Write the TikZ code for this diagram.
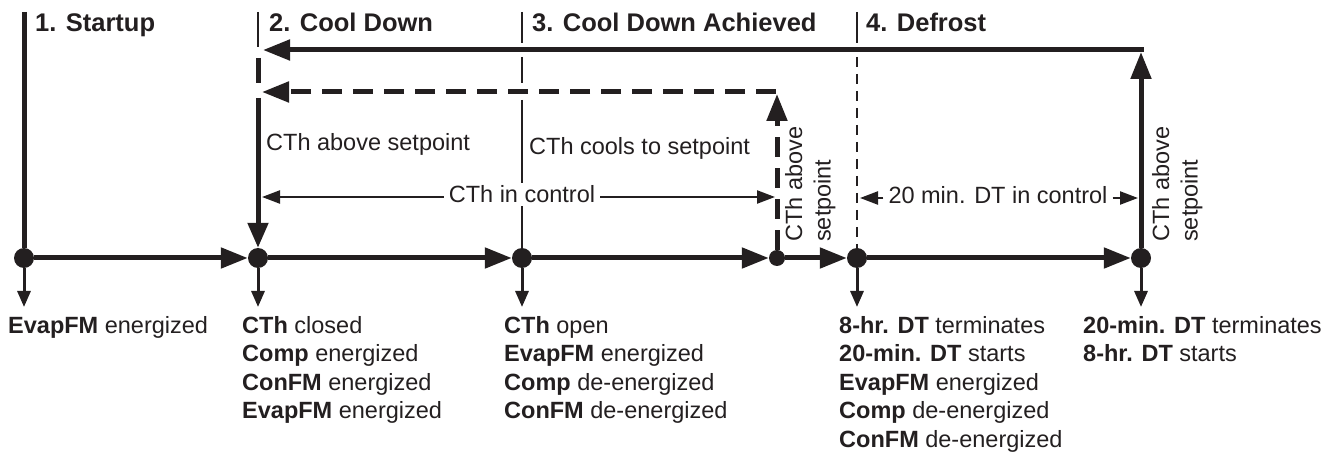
\documentclass[tikz,border=0pt]{standalone}
\usepackage{fontspec}
\setmainfont{Liberation Sans}
\usetikzlibrary{arrows.meta}
\definecolor{ink}{RGB}{35,31,32}
\begin{document}
\begin{tikzpicture}[x=1pt,y=-1pt,
  font=\fontsize{23.5}{28.5}\selectfont,
  dot/.style={circle, fill=ink, inner sep=0, minimum size=20pt},
  sdot/.style={circle, fill=ink, inner sep=0, minimum size=16pt},
  main/.style={line width=5pt, draw=ink},
  big/.style={-{Triangle[length=27pt,width=20pt]}},
  dsh/.style={dash pattern=on 20pt off 11pt},
  sep/.style={line width=2.3pt, draw=ink},
  thinarrow/.style={line width=2.3pt, draw=ink, -{Triangle[length=18pt,width=13pt]}},
  downarrow/.style={line width=3pt, draw=ink, -{Triangle[length=16pt,width=13pt]}},
  lbl/.style={inner sep=0, anchor=base west, text=ink},
  title/.style={lbl, font=\fontsize{25.5}{28}\selectfont\bfseries},
  ctl/.style={anchor=base, fill=white, inner xsep=5pt, inner ysep=3pt, text=ink},
  rot/.style={rotate=90, anchor=north west, align=left, inner sep=0, text=ink},
  blk/.style={anchor=north west, align=left, inner sep=0, text=ink}]
\useasboundingbox (0,0) rectangle (1336,454);

% timeline dots
\node[dot] (d1) at (24,258) {};
\node[dot] (d2) at (258,258) {};
\node[dot] (d3) at (522,258) {};
\node[sdot] (sd) at (777,258) {};
\node[dot] (d4) at (857,258) {};
\node[dot] (d5) at (1141,258) {};

% coordinates
\coordinate (t1) at (24,12);
\coordinate (s2a) at (258,12);
\coordinate (s2b) at (258,47);
\coordinate (v2a) at (258,58);
\coordinate (v2b) at (258,83);
\coordinate (a2) at (258,98);
\coordinate (s3a) at (522,12);
\coordinate (s3b) at (522,43);
\coordinate (s3c) at (522,57);
\coordinate (s3d) at (522,83);
\coordinate (s3e) at (522,100);
\coordinate (s4a) at (857,12);
\coordinate (s4b) at (857,43);
\coordinate (s4c) at (857,57);
\coordinate (topTip) at (1141,52);
\coordinate (topR) at (1143.5,50);
\coordinate (topL) at (263,50);
\coordinate (dTip) at (777,94);
\coordinate (dR) at (776,92);
\coordinate (dL) at (262,92);
\coordinate (b1) at (24,307);
\coordinate (b2) at (258,307);
\coordinate (b3) at (522,307);
\coordinate (b4) at (857,307);
\coordinate (b5) at (1141,307);
\coordinate (cicL) at (262,197);
\coordinate (cicR) at (775,197);
\coordinate (dtcL) at (860,198);
\coordinate (dtcR) at (1138,198);

% separators
\draw[sep] (s2a) -- (s2b);
\draw[sep] (s3a) -- (s3b);
\draw[sep] (s3c) -- (s3d);
\draw[sep] (s3e) -- (d3);
\draw[sep] (s4a) -- (s4b);
\draw[sep, dash pattern=on 10pt off 7pt] (s4c) -- (d4);

% thick verticals and loops
\draw[main] (t1) -- (d1);
\draw[main] (v2a) -- (v2b);
\draw[main, -{Triangle[length=25pt,width=20pt]}] (a2) -- (d2);
\draw[main, big] (d5) -- (topTip);
\draw[main, big] (topR) -- (topL);
\draw[main, dsh, big] (sd) -- (dTip);
\draw[main, dsh, big] (dR) -- (dL);

% control labels
\node[ctl] (cic) at (522,203) {CTh in control};
\draw[thinarrow] (cic.west |- cicL) -- (cicL);
\draw[thinarrow] (cic.east |- cicR) -- (cicR);
\node[ctl] (dtc) at (998,204) {20 min. DT in control};
\draw[thinarrow] (dtc.west |- dtcL) -- (dtcL);
\draw[thinarrow] (dtc.east |- dtcR) -- (dtcR);

% timeline arrows
\draw[main, big] (d1) -- (d2);
\draw[main, big] (d2) -- (d3);
\draw[main, big] (d3) -- (sd);
\draw[main, big] (sd) -- (d4);
\draw[main, big] (d4) -- (d5);

% down arrows
\draw[downarrow] (d1) -- (b1);
\draw[downarrow] (d2) -- (b2);
\draw[downarrow] (d3) -- (b3);
\draw[downarrow] (d4) -- (b4);
\draw[downarrow] (d5) -- (b5);

% titles
\node[title] (h1) at (35,32) {1. Startup};
\node[title] (h2) at (269,32) {2. Cool Down};
\node[title] (h3) at (532,32) {3. Cool Down Achieved};
\node[title] (h4) at (866,32) {4. Defrost};

% labels
\node[lbl] (l2) at (266,151) {CTh above setpoint};
\node[lbl] (l3) at (529,155) {CTh cools to setpoint};
\node[rot] (ra) at (785,242) {CTh above\\setpoint};
\node[rot] (rb) at (1152,242) {CTh above\\setpoint};

% bottom blocks
\node[blk] (k1) at (8,316) {\textbf{EvapFM} energized};
\node[blk] (k2) at (242,316) {\textbf{CTh} closed\\\textbf{Comp} energized\\\textbf{ConFM} energized\\\textbf{EvapFM} energized};
\node[blk] (k3) at (504,316) {\textbf{CTh} open\\\textbf{EvapFM} energized\\\textbf{Comp} de-energized\\\textbf{ConFM} de-energized};
\node[blk] (k4) at (839,316) {\textbf{8-hr. DT} terminates\\\textbf{20-min. DT} starts\\\textbf{EvapFM} energized\\\textbf{Comp} de-energized\\\textbf{ConFM} de-energized};
\node[blk] (k5) at (1083,316) {\textbf{20-min. DT} terminates\\\textbf{8-hr. DT} starts};
\end{tikzpicture}
\end{document}
